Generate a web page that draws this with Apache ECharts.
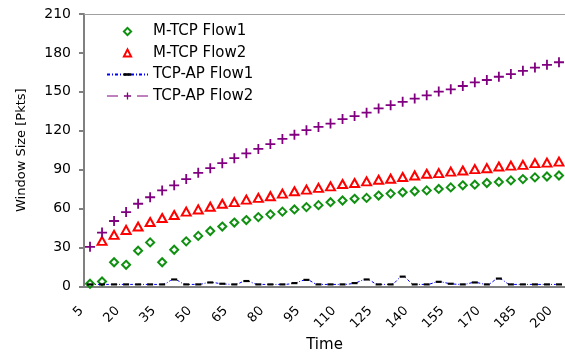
<!DOCTYPE html>
<html><head><meta charset="utf-8">
<script src="https://cdn.jsdelivr.net/npm/echarts@6/dist/echarts.min.js"></script>
<style>html,body{margin:0;padding:0;background:#fff}#c{width:565px;height:358px}</style>
</head><body><div id="c"></div>
<script>
const times = ['5','10','15','20','25','30','35','40','45','50','55','60','65','70','75','80','85','90','95','100',
  '105','110','115','120','125','130','135','140','145','150','155','160','165','170','175','180','185','190','195','200'];
const mtcpFlow1 = [2.0, 3.8, 18.6, 16.6, 27.5, 33.9, 18.6, 28.2, 34.7, 38.9, 42.7, 46.1, 49.2, 51.1, 53.4, 55.5, 57.6, 59.3, 61.1, 62.6,
  64.9, 66.2, 67.5, 68.2, 70.0, 71.5, 72.5, 73.3, 74.0, 75.1, 76.3, 77.9, 78.4, 79.7, 80.5, 81.7, 82.7, 84.0, 84.7, 85.5];
const mtcpFlow2 = [null, 35.1, 39.7, 43.5, 46.1, 49.6, 52.7, 55.0, 57.6, 59.3, 61.4, 63.7, 64.9, 66.9, 68.2, 69.5, 71.5, 73.3, 74.6, 75.9,
  77.1, 78.9, 79.7, 80.9, 82.2, 83.0, 84.3, 85.5, 86.8, 87.3, 88.5, 89.3, 90.4, 91.1, 92.4, 93.1, 93.7, 95.0, 95.4, 96.2];
const tcpapFlow1 = [1.5, 1.5, 1.5, 1.5, 1.5, 1.5, 1.5, 5.3, 1.5, 1.5, 3.0, 2.0, 1.5, 4.1, 1.5, 1.5, 1.5, 2.5, 5.0, 1.5,
  1.5, 1.5, 2.5, 5.3, 1.5, 1.5, 7.5, 1.5, 1.5, 3.5, 2.0, 1.5, 3.0, 1.5, 6.0, 1.5, 1.5, 1.5, 1.5, 1.5];
const tcpapFlow2 = [30.5, 41.5, 50.4, 57.3, 63.7, 68.7, 74.0, 77.9, 82.7, 87.5, 91.1, 95.0, 98.8, 102.6, 106.0, 109.7, 113.7, 116.9, 120.4, 122.9,
  125.5, 129.0, 131.3, 133.9, 137.2, 139.7, 142.3, 144.8, 147.3, 150.2, 151.9, 154.5, 157.3, 159.1, 161.6, 163.7, 166.2, 168.7, 170.8, 172.8];
const yTicks = {min: 0, max: 210, interval: 30};

const FONT = 'DejaVu Sans';
const axisColor = '#808080';
const plusPath = 'path://M0,4.1H4.1V0H5.9V4.1H10V5.9H5.9V10H4.1V5.9H0Z';
const dashPath = 'path://M0,0M10,10M0,3.2H10V6.8H0Z';

const chart = echarts.init(document.getElementById('c'), null, {renderer: 'canvas'});
chart.setOption({
  animation: false,
  backgroundColor: '#fff',
  grid: {left: 84, right: 0, top: 14, bottom: 70},
  legend: {
    orient: 'vertical', left: 101, top: 19, itemWidth: 41, itemHeight: 9, itemGap: 6.5,
    textStyle: {fontFamily: FONT, fontSize: 15, color: '#000'},
    data: [
      {name: 'M-TCP Flow1'},
      {name: 'M-TCP Flow2'},
      {name: 'TCP-AP Flow1'},
      {name: 'TCP-AP Flow2', lineStyle: {opacity: 1, width: 1, color: '#800080', type: [11, 19]}}
    ]
  },
  xAxis: [{
    type: 'category', data: times, boundaryGap: true,
    axisLine: {lineStyle: {color: axisColor, width: 2}},
    axisTick: {interval: 2, length: 5, lineStyle: {color: axisColor, width: 2}},
    axisLabel: {interval: 2, rotate: 45, fontFamily: FONT, fontSize: 13, color: '#000', margin: 14, padding: [0, 12, 0, 0]},
    splitLine: {show: false},
    name: 'Time', nameLocation: 'middle', nameGap: 51,
    nameTextStyle: {fontFamily: FONT, fontSize: 15, color: '#000'}
  }, {
    type: 'category', data: times, position: 'top',
    axisLine: {lineStyle: {color: '#a0a0a0', width: 1}},
    axisTick: {show: false}, axisLabel: {show: false}, splitLine: {show: false}
  }],
  yAxis: {
    type: 'value', min: yTicks.min, max: yTicks.max, interval: yTicks.interval,
    axisLine: {show: true, lineStyle: {color: axisColor, width: 2}},
    axisTick: {show: true, length: 5, lineStyle: {color: axisColor, width: 2}},
    axisLabel: {fontFamily: FONT, fontSize: 14, color: '#000', margin: 13},
    splitLine: {show: false},
    name: 'Window Size [Pkts]', nameLocation: 'middle', nameGap: 56,
    nameTextStyle: {fontFamily: FONT, fontSize: 13, color: '#000'}
  },
  series: [
    {name: 'M-TCP Flow1', type: 'line', data: mtcpFlow1, symbol: 'emptyDiamond', symbolSize: [8, 8],
      showAllSymbol: true, itemStyle: {color: '#109010', borderWidth: 1.1}, lineStyle: {opacity: 0}, emphasis: {disabled: true}},
    {name: 'M-TCP Flow2', type: 'line', data: mtcpFlow2, symbol: 'emptyTriangle', symbolSize: [9, 8],
      showAllSymbol: true, itemStyle: {color: '#ff0000', borderWidth: 1.1}, lineStyle: {opacity: 0}, emphasis: {disabled: true}},
    {name: 'TCP-AP Flow1', type: 'line', data: tcpapFlow1, symbol: dashPath, symbolSize: 6,
      showAllSymbol: true, smooth: 0.4, itemStyle: {color: '#000'}, lineStyle: {color: '#0000ff', width: 1, type: [3, 2, 1, 2]}, emphasis: {disabled: true}},
    {name: 'TCP-AP Flow2', type: 'line', data: tcpapFlow2, symbol: plusPath, symbolSize: 10,
      showAllSymbol: true, itemStyle: {color: '#800080'}, lineStyle: {opacity: 0}, emphasis: {disabled: true}}
  ]
});
</script>
</body></html>
